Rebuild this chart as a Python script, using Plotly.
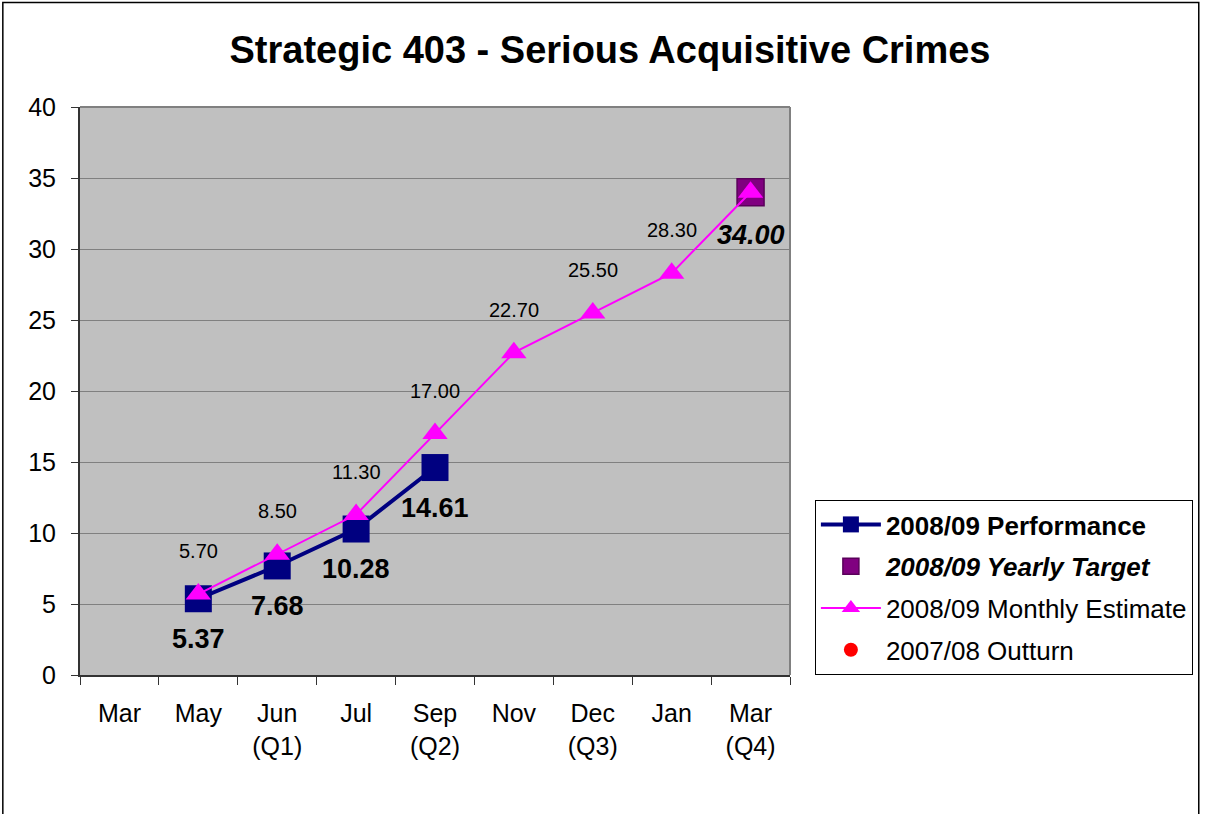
import plotly.graph_objects as go

categories = ["Mar", "May", "Jun<br>(Q1)", "Jul", "Sep<br>(Q2)", "Nov", "Dec<br>(Q3)", "Jan", "Mar<br>(Q4)"]
performance = [None, 5.37, 7.68, 10.28, 14.61, None, None, None, None]
yearly_target = [None, None, None, None, None, None, None, None, 34.00]
monthly_estimate = [None, 5.70, 8.50, 11.30, 17.00, 22.70, 25.50, 28.30, 34.00]
outturn = [None, None, None, None, None, None, None, None, None]

FONT = "Liberation Sans, Arial, sans-serif"

fig = go.Figure()
fig.add_trace(go.Scatter(
    x=categories, y=performance, mode="lines+markers",
    name="<b>2008/09 Performance</b>", legendgroup="a",
    line=dict(color="#000080", width=4),
    marker=dict(symbol="square", size=27, color="#000080"),
    connectgaps=False,
))
fig.add_trace(go.Scatter(
    x=categories, y=yearly_target, mode="markers",
    name="<b><i>2008/09 Yearly Target</i></b>", legendgroup="b",
    marker=dict(symbol="square", size=27, color="#800080", line=dict(color="#5a005a", width=1.5)),
))
fig.add_trace(go.Scatter(
    x=categories, y=monthly_estimate, mode="lines+markers",
    name="2008/09 Monthly Estimate", legendgroup="c",
    line=dict(color="#FF00FF", width=2),
    marker=dict(symbol="triangle-up", size=22, color="#FF00FF"),
))
fig.add_trace(go.Scatter(
    x=categories, y=outturn, mode="markers",
    name="2007/08 Outturn", legendgroup="d",
    marker=dict(symbol="circle", size=14, color="#FF0000"),
))

annotations = []
for c, v in zip(categories, performance):
    if v is not None:
        annotations.append(dict(x=c, y=v, text=f"<b>{v:.2f}</b>", showarrow=False,
                                yshift=-40, font=dict(family=FONT, size=27, color="black")))
for c, v, t in zip(categories, monthly_estimate, yearly_target):
    if v is not None and t is None:
        annotations.append(dict(x=c, y=v, text=f"{v:.2f}", showarrow=False,
                                yshift=43, font=dict(family=FONT, size=20, color="black")))
for c, v in zip(categories, yearly_target):
    if v is not None:
        annotations.append(dict(x=c, y=v, text=f"<b><i>{v:.2f}</i></b>", showarrow=False,
                                yshift=-43, font=dict(family=FONT, size=27, color="black")))

L, R, T, B = 80, 793, 107, 675
W, H = 1205, 814
pw, ph = R - L, B - T

def px(xp):
    return (xp - L) / pw

def py(yp):
    return (B - yp) / ph

shapes = [
    # outer chart frame
    dict(type="rect", xref="paper", yref="paper", x0=px(2.5), x1=px(1203.5), y0=py(830), y1=py(2.5),
         line=dict(color="black", width=1.5), layer="below"),
    # top & right plot-area border
    dict(type="line", xref="paper", yref="paper", x0=0, x1=1, y0=1, y1=1,
         line=dict(color="#808080", width=2)),
    dict(type="line", xref="paper", yref="paper", x0=1, x1=1, y0=0, y1=1,
         line=dict(color="#808080", width=2)),
]

fig.update_layout(
    width=W, height=H,
    margin=dict(l=L, r=W - R, t=T, b=H - B),
    paper_bgcolor="white", plot_bgcolor="#C0C0C0",
    font=dict(family=FONT, color="black"),
    title=dict(text="<b>Strategic 403 - Serious Acquisitive Crimes</b>",
               x=610 / W, xref="container", xanchor="center",
               y=1 - 50 / H, yref="container", yanchor="middle",
               font=dict(family=FONT, size=38, color="black")),
    showlegend=True,
    legend=dict(x=px(818), y=py(500), xanchor="left", yanchor="top",
                bgcolor="white", bordercolor="black", borderwidth=1,
                font=dict(family=FONT, size=26, color="black"),
                tracegroupgap=5, itemwidth=60, traceorder="grouped"),
    annotations=annotations,
    shapes=shapes,
    hovermode=False,
)
fig.update_xaxes(
    type="category", categoryorder="array", categoryarray=categories,
    range=[-0.5, len(categories) - 0.5],
    tickson="boundaries", ticks="outside", ticklen=8, tickcolor="#333333", tickwidth=1,
    showline=True, linecolor="#333333", linewidth=2,
    showgrid=False, zeroline=False,
    tickfont=dict(family=FONT, size=25, color="black"),
    ticklabelstandoff=15,
)
fig.update_yaxes(
    range=[0, 40], dtick=5, tick0=0,
    ticks="outside", ticklen=7, tickcolor="#333333", tickwidth=1,
    showline=True, linecolor="#333333", linewidth=2,
    showgrid=True, gridcolor="#808080", gridwidth=1, zeroline=False,
    tickfont=dict(family=FONT, size=25, color="black"),
    ticklabelstandoff=10,
)

fig.write_html(
    "out.html",
    config={"displayModeBar": False},
    post_script="document.body.style.margin='0';document.body.style.overflow='hidden';",
)
